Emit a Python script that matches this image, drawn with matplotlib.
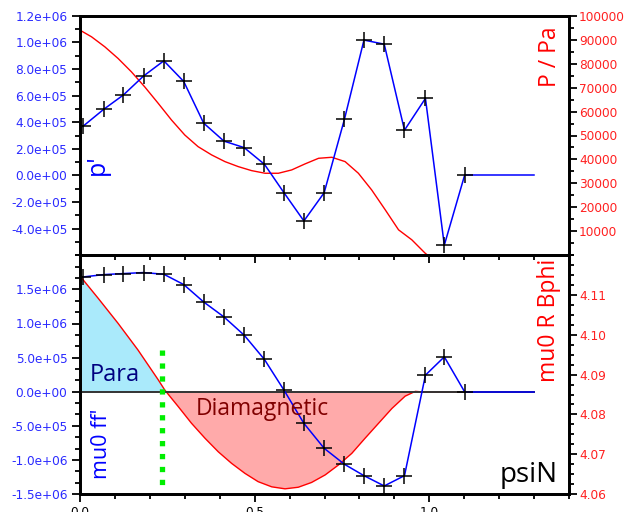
import matplotlib
matplotlib.use("Agg")
import matplotlib.pyplot as plt
from matplotlib.ticker import FixedLocator, MultipleLocator, FuncFormatter, NullFormatter

# ---------------- data ----------------
psin_nodes = [0.008, 0.068, 0.124, 0.182, 0.240, 0.297, 0.354, 0.412, 0.470, 0.528,
              0.584, 0.641, 0.699, 0.757, 0.813, 0.871, 0.929, 0.989, 1.043, 1.101]
pprime = [3.68e5, 4.97e5, 6.04e5, 7.47e5, 8.61e5, 7.06e5, 3.93e5, 2.58e5, 2.09e5, 0.84e5,
          -1.30e5, -3.42e5, -1.30e5, 4.21e5, 10.17e5, 9.86e5, 3.40e5, 5.79e5, -5.24e5, 0.0]
ffprime = [1.682e6, 1.717e6, 1.732e6, 1.747e6, 1.722e6, 1.571e6, 1.316e6, 1.097e6, 0.829e6, 0.473e6,
           0.023e6, -0.464e6, -0.830e6, -1.064e6, -1.231e6, -1.382e6, -1.231e6, 0.243e6, 0.511e6, 0.0]
psin_tail = [1.101, 1.30]
pprime_tail = [0.0, 0.0]
ffprime_tail = [0.0, 0.0]

psin_p = [0.0, 0.033, 0.071, 0.109, 0.147, 0.185, 0.224, 0.262, 0.300, 0.338, 0.377, 0.415,
          0.453, 0.491, 0.530, 0.568, 0.606, 0.644, 0.683, 0.721, 0.759, 0.797, 0.835,
          0.874, 0.912, 0.950, 0.988, 1.03]
pressure = [93960, 91190, 87020, 82160, 76600, 70350, 63410, 56460, 50210, 45350, 41880, 39100,
            37020, 35350, 34240, 34240, 35630, 38130, 40490, 40910, 39100, 34240, 27290,
            18960, 10630, 6460, 900, -4000]

psin_f = [0.0, 0.052, 0.109, 0.166, 0.224, 0.243, 0.281, 0.319, 0.358, 0.396, 0.434, 0.472,
          0.510, 0.549, 0.587, 0.625, 0.663, 0.702, 0.740, 0.778, 0.816, 0.855, 0.893,
          0.931, 0.960, 0.988, 1.30]
fpol = [4.1148, 4.1092, 4.1029, 4.0962, 4.0887, 4.0861, 4.0820, 4.0778, 4.0740, 4.0706, 4.0677, 4.0652,
        4.0631, 4.0618, 4.0613, 4.0617, 4.0629, 4.0648, 4.0673, 4.0702, 4.0740, 4.0778, 4.0815,
        4.0846, 4.0858, 4.0856, 4.0856]
fpol_edge = 4.0856

sep_psin = 0.236
sep_range = [6.1e5, -1.4e6]

top_left_ticks = [-4e5, -2e5, 0, 2e5, 4e5, 6e5, 8e5, 1.0e6, 1.2e6]
top_right_ticks = [10000, 20000, 30000, 40000, 50000, 60000, 70000, 80000, 90000, 100000]
bot_left_ticks = [-1.5e6, -1.0e6, -5e5, 0, 5e5, 1.0e6, 1.5e6]
bot_right_ticks = [4.06, 4.07, 4.08, 4.09, 4.10, 4.11]
x_ticks = [0.0, 0.5, 1.0]

# ---------------- style ----------------
BLUE = '#2b2bff'
RED = '#ff2020'
plt.rcParams['font.family'] = ['DejaVu Sans']
LABFONT = ['Open Sans', 'DejaVu Sans']

fig = plt.figure(figsize=(6.24, 5.12), dpi=100)
W, H = 624.0, 512.0
L, R = 80 / W, 569 / W
ax1 = fig.add_axes([L, 1 - 255.3 / H, R - L, (255.3 - 15.7) / H])
ax3 = fig.add_axes([L, 1 - 494 / H, R - L, (494 - 255.3) / H])
ax2 = ax1.twinx()
ax4 = ax3.twinx()

for a in (ax1, ax2, ax3, ax4):
    for s in a.spines.values():
        s.set_linewidth(2.0)
    a.tick_params(which='major', length=5.5, width=1.3, direction='out', labelsize=8.7, pad=3.5)
    a.tick_params(which='minor', length=3.5, width=1.3, direction='out')
for a in (ax2, ax4):
    a.tick_params(axis='y', which='major', pad=1.8)

# put the twin (right) axes behind
ax2.set_zorder(ax1.get_zorder() - 1)
ax1.patch.set_visible(False)
ax4.set_zorder(ax3.get_zorder() - 1)
ax3.patch.set_visible(False)

sci = FuncFormatter(lambda v, p: '%.1e' % v)

# ---- top panel ----
ax2.plot(psin_p, pressure, color='red', lw=1.0)
ax1.plot(psin_nodes, pprime, color='blue', lw=1.1, zorder=3)
ax1.plot(psin_tail, pprime_tail, color='blue', lw=1.1, zorder=3)
ax1.plot(psin_nodes, pprime, ls='none', marker='+', ms=12, mew=1.1, color='black', zorder=4)
ax1.set_xlim(0, 1.4)
ax1.set_ylim(-6e5, 1.2e6)
ax2.set_ylim(0, 100000)
ax1.yaxis.set_major_locator(FixedLocator(top_left_ticks))
ax1.yaxis.set_minor_locator(MultipleLocator(1e5))
ax1.yaxis.set_major_formatter(sci)
ax2.yaxis.set_major_locator(FixedLocator(top_right_ticks))
ax2.yaxis.set_minor_locator(MultipleLocator(5000))
ax1.xaxis.set_major_locator(FixedLocator(x_ticks))
ax1.xaxis.set_minor_locator(MultipleLocator(0.1))
ax1.xaxis.set_major_formatter(NullFormatter())
ax1.tick_params(axis='y', labelcolor=BLUE, which='both')
ax2.tick_params(axis='y', labelcolor=RED, which='both')
ax1.tick_params(axis='x', top=False)
ax1.text(0.036, 0.377, "p'", transform=ax1.transAxes, rotation=90, ha='center', va='center',
         color='blue', fontsize=18, family=LABFONT)
ax2.text(0.961, 0.828, "P / Pa", transform=ax2.transAxes, rotation=90, ha='center', va='center',
         color='red', fontsize=16.5, family=LABFONT)

# ---- bottom panel ----
ax4.fill_between(psin_f, fpol, fpol_edge, where=[v >= fpol_edge for v in fpol],
                 interpolate=True, color='#aaeafb', lw=0)
ax4.fill_between(psin_f, fpol, fpol_edge, where=[v <= fpol_edge for v in fpol],
                 interpolate=True, color='#ffaaaa', lw=0)
ax4.plot(psin_f, fpol, color='red', lw=1.0)
ax3.plot([0, 1.3], [0, 0], color='#333333', lw=1.4, zorder=2)
ax3.plot(psin_nodes, ffprime, color='blue', lw=1.1, zorder=3)
ax3.plot(psin_tail, ffprime_tail, color='blue', lw=1.1, zorder=3)
ax3.plot(psin_nodes, ffprime, ls='none', marker='+', ms=12, mew=1.1, color='black', zorder=4)
ax3.plot([sep_psin, sep_psin], sep_range, color='#00ee00', lw=3.8, ls=(0, (1.0, 1.45)),
         solid_capstyle='butt', dash_capstyle='butt', zorder=5)
ax3.set_xlim(0, 1.4)
ax3.set_ylim(-1.5e6, 2.0e6)
ax4.set_ylim(4.06, 4.12)
ax3.yaxis.set_major_locator(FixedLocator(bot_left_ticks))
ax3.yaxis.set_minor_locator(MultipleLocator(5e5 / 3))
ax3.yaxis.set_major_formatter(sci)
ax4.yaxis.set_major_locator(FixedLocator(bot_right_ticks))
ax4.yaxis.set_minor_locator(MultipleLocator(0.0025))
ax4.yaxis.set_major_formatter(FuncFormatter(lambda v, p: '%.2f' % v))
ax3.xaxis.set_major_locator(FixedLocator(x_ticks))
ax3.xaxis.set_minor_locator(MultipleLocator(0.1))
ax3.xaxis.set_major_formatter(FuncFormatter(lambda v, p: '%.1f' % v))
ax3.tick_params(axis='y', labelcolor=BLUE, which='both')
ax4.tick_params(axis='y', labelcolor=RED, which='both')
ax3.text(0.029, 0.16e6, "Para", color='#000080', fontsize=17, family=LABFONT, ha='left', va='baseline', zorder=6)
ax3.text(0.33, -0.343e6, "Diamagnetic", color='#800000', fontsize=16.5, family=LABFONT, ha='left', va='baseline', zorder=6)
ax3.text(0.043, 0.209, "mu0 ff'", transform=ax3.transAxes, rotation=90, ha='center', va='center',
         color='blue', fontsize=15.5, family=LABFONT)
ax4.text(0.959, 0.727, "mu0 R Bphi", transform=ax4.transAxes, rotation=90, ha='center', va='center',
         color='red', fontsize=16.5, family=LABFONT)
ax3.text(0.977, 0.051, "psiN", transform=ax3.transAxes, ha='right', va='baseline',
         color='black', fontsize=20, family=LABFONT, zorder=6)

fig.savefig('out.png', dpi=100)
